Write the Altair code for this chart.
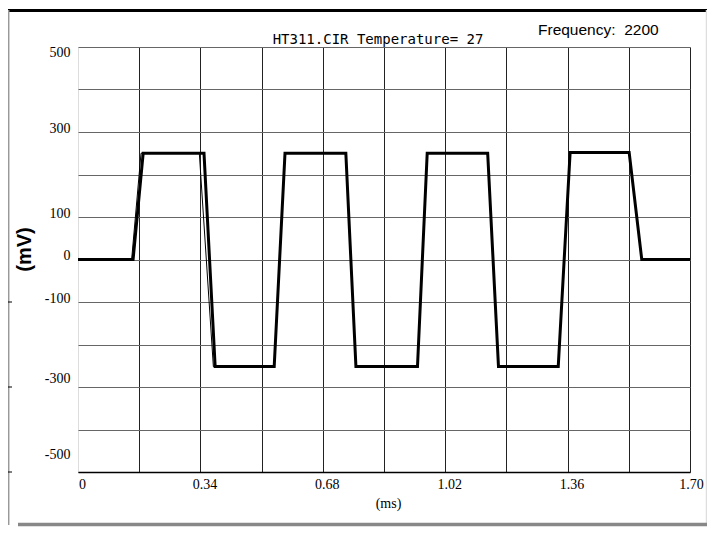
import json
import altair as alt
import pandas as pd

# ---- data ----
# thick trace (ms, mV)
t_main = [0, 0.153, 0.181, 0.350, 0.381, 0.545, 0.575, 0.744, 0.772, 0.943, 0.970,
          1.138, 1.168, 1.334, 1.367, 1.531, 1.566, 1.70]
v_main = [0, 0, 250, 250, -252, -252, 250, 250, -252, -252, 250,
          250, -252, -252, 252, 252, 0, 0]
# thin trace (ms, mV)
t_thin = [0, 0.149, 0.175, 0.337, 0.376, 0.545, 0.575, 0.744, 0.772, 0.943, 0.970,
          1.138, 1.168, 1.334, 1.367, 1.531, 1.566, 1.70]
v_thin = [0, 0, 250, 250, -252, -252, 250, 250, -252, -252, 250,
          250, -252, -252, 252, 252, 0, 0]

x_tick_values = [0, 0.17, 0.34, 0.51, 0.68, 0.85, 1.02, 1.19, 1.36, 1.53, 1.70]
x_tick_labels = ["0", "", "0.34", "", "0.68", "", "1.02", "", "1.36", "", "1.70"]
y_tick_values = [-500, -400, -300, -200, -100, 0, 100, 200, 300, 400, 500]
y_tick_labels = ["-500", "", "-300", "", "-100", "0", "100", "", "300", "", "500"]
border_tick_values = [-100, -300, -500]

title_text = "HT311.CIR Temperature= 27"
freq_text = "Frequency:\u00a0\u00a02200"

main_df = pd.DataFrame({"t": t_main, "v": v_main, "i": list(range(len(t_main)))})
thin_df = pd.DataFrame({"t": t_thin, "v": v_thin, "i": list(range(len(t_thin)))})
one = pd.DataFrame({"a": [0]})
btick_df = pd.DataFrame({"v": border_tick_values})

xscale = alt.Scale(domain=[0, 1.7], nice=False, zero=False)
yscale = alt.Scale(domain=[-500, 500], nice=False, zero=False)

x_axis = alt.Axis(
    values=x_tick_values,
    labelExpr=json.dumps(x_tick_labels) + "[round(datum.value/0.17)]",
    grid=True, gridColor="#222222", gridWidth=1,
    gridOpacity={"condition": {"test": "datum.value < 0.01", "value": 0}, "value": 1},
    domain=True, domainColor="#000000", domainWidth=1.5,
    ticks=False,
    labelFont="Liberation Serif", labelFontSize=14, labelColor="#000000",
    labelPadding=5, labelOffset=alt.expr("datum.value > 1.6 ? 1 : 4"),
    labelFlush=False, labelOverlap=False,
    title="(ms)", titleFont="Liberation Serif", titleFontSize=14,
    titleFontWeight="normal", titleColor="#000000",
    titleX=310, titleY=31, titleAlign="center", titleBaseline="middle",
)
y_axis = alt.Axis(
    values=y_tick_values,
    labelExpr=json.dumps(y_tick_labels) + "[round((datum.value+500)/100)]",
    grid=True, gridColor="#666666", gridWidth=1.2,
    domain=False, ticks=False,
    labelFont="Liberation Serif", labelFontSize=14, labelColor="#000000",
    labelPadding=8, labelFlush=False, labelOverlap=False,
    labelOffset=alt.expr(
        "datum.value == 500 ? 5 : datum.value == -500 ? -18 : "
        "datum.value == -300 ? -9 : -4"),
    title="(mV)", titleFont="Liberation Sans", titleFontSize=20,
    titleFontWeight="bold", titleColor="#000000", titleAngle=270,
    titleX=-54, titleY=202, titleAlign="center", titleBaseline="middle",
)

thick = alt.Chart(main_df).mark_line(color="#000000", strokeWidth=3).encode(
    x=alt.X("t:Q", scale=xscale, axis=x_axis),
    y=alt.Y("v:Q", scale=yscale, axis=y_axis),
    order="i:O",
)
thin = alt.Chart(thin_df).mark_line(color="#000000", strokeWidth=1).encode(
    x=alt.X("t:Q", scale=xscale),
    y=alt.Y("v:Q", scale=yscale),
    order="i:O",
)

# page frame
top_line = alt.Chart(one).mark_rule(color="#000000", strokeWidth=3).encode(
    x=alt.value(-70), x2=alt.value(629), y=alt.value(-36.5))
left_line = alt.Chart(one).mark_rule(color="#999999", strokeWidth=1.5).encode(
    x=alt.value(-69.3), y=alt.value(-37), y2=alt.value(478))
right_line = alt.Chart(one).mark_rule(color="#dddddd", strokeWidth=1.5).encode(
    x=alt.value(628.5), y=alt.value(-37), y2=alt.value(476))
bottom_line = alt.Chart(one).mark_rule(color="#888888", strokeWidth=3.5).encode(
    x=alt.value(-60), x2=alt.value(629), y=alt.value(477.5))
border_ticks = alt.Chart(btick_df).mark_rule(color="#000000", strokeWidth=1).encode(
    x=alt.value(-70), x2=alt.value(-66), y=alt.Y("v:Q", scale=yscale))

title = alt.Chart(one).mark_text(
    font="DejaVu Sans Mono", fontSize=14, align="center", baseline="alphabetic",
    color="#000000").encode(
    x=alt.value(300), y=alt.value(-3), text=alt.value(title_text))
freq = alt.Chart(one).mark_text(
    font="Liberation Sans", fontSize=15.5, align="left", baseline="alphabetic",
    color="#000000").encode(
    x=alt.value(460), y=alt.value(-12), text=alt.value(freq_text))

chart = alt.layer(
    thin, thick, top_line, left_line, right_line, bottom_line, border_ticks, title, freq
).properties(
    width=612, height=425,
    autosize=alt.AutoSizeParams(type="none"),
    padding={"left": 70, "top": 39, "right": 17, "bottom": 55},
).configure_view(stroke=None).configure(background="#ffffff")

chart.save("out.html", embed_options={"renderer": "svg", "actions": False})
